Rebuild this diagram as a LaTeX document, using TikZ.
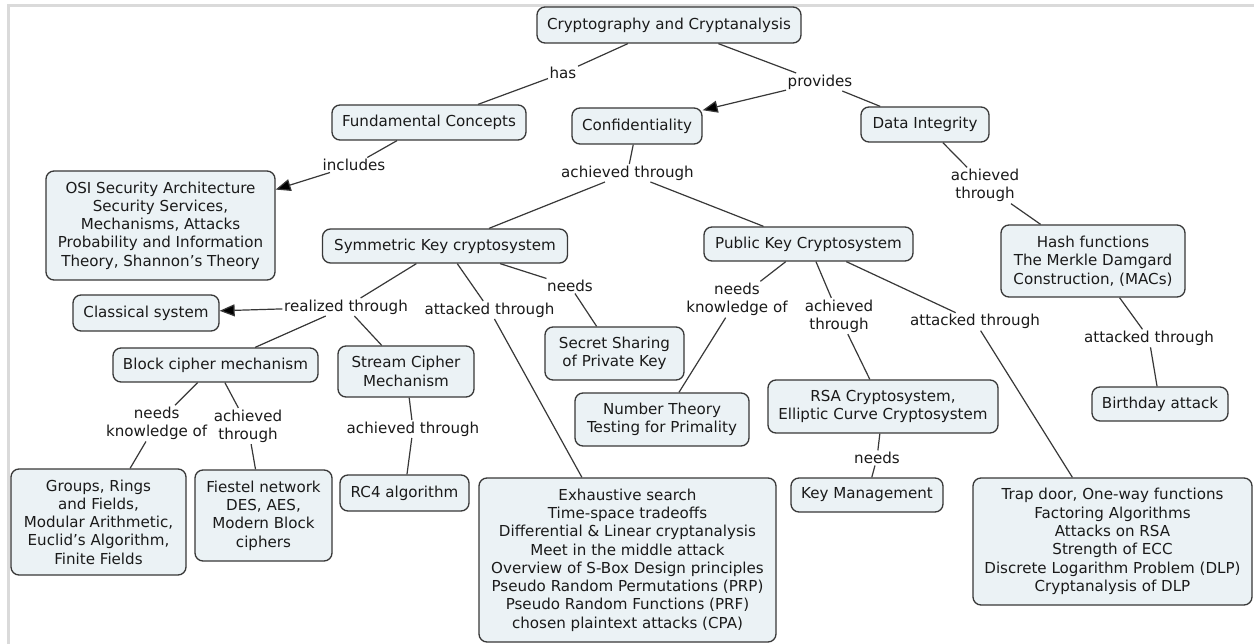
\documentclass[tikz,border=0pt]{standalone}
\usepackage{fontspec}
\setmainfont{DejaVu Sans}
\usetikzlibrary{arrows.meta}
\definecolor{boxfill}{HTML}{EBF2F5}
\definecolor{boxline}{HTML}{383838}
\definecolor{txt}{HTML}{1A1A1A}
\definecolor{framegrey}{HTML}{DADADA}
\tikzset{
  concept/.style={draw=boxline, fill=boxfill, line width=1.3pt, rounded corners=8pt,
    align=center, inner sep=2pt, text=txt, font=\fontsize{15.1}{18.3}\selectfont},
  linkph/.style={align=center, inner sep=1.5pt, text=txt, font=\fontsize{15.1}{18.3}\selectfont},
  conn/.style={draw=boxline, line width=1.2pt},
  arr/.style={conn, -{Triangle[length=15pt,width=12pt,fill=black]}}
}
\begin{document}
\begin{tikzpicture}[x=1pt,y=-1pt]
\useasboundingbox (0,0) rectangle (1254,644);
\fill[white] (0,0) rectangle (1254,644);
\draw[framegrey, line width=2.5pt] (8.7,644) -- (8.7,5.3) -- (1254,5.3);

% concepts
\node[concept, minimum width=264pt, minimum height=36pt] (crypto) at (669,25) {Cryptography and Cryptanalysis};
\node[concept, minimum width=194pt, minimum height=35pt] (fund) at (429,122.5) {Fundamental Concepts};
\node[concept, minimum width=130pt, minimum height=36pt] (conf) at (637,126) {Confidentiality};
\node[concept, minimum width=128pt, minimum height=35pt] (di) at (925,124.5) {Data Integrity};
\node[concept, minimum width=229pt, minimum height=109pt] (osi) at (160.5,225.5) {OSI Security Architecture\\Security Services,\\Mechanisms, Attacks\\Probability and Information\\Theory, Shannon’s Theory};
\node[concept, minimum width=245pt, minimum height=34pt] (sym) at (445,246) {Symmetric Key cryptosystem};
\node[concept, minimum width=209pt, minimum height=34pt] (pub) at (808.5,244) {Public Key Cryptosystem};
\node[concept, minimum width=184pt, minimum height=72pt] (hash) at (1093,261) {Hash functions\\The Merkle Damgard\\Construction, (MACs)};
\node[concept, minimum width=146pt, minimum height=36pt] (classical) at (146,313) {Classical system};
\node[concept, minimum width=205pt, minimum height=34pt] (block) at (215.5,365) {Block cipher mechanism};
\node[concept, minimum width=136pt, minimum height=51pt] (stream) at (406,371.5) {Stream Cipher\\Mechanism};
\node[concept, minimum width=139pt, minimum height=53pt] (secret) at (614.5,353.5) {Secret Sharing\\of Private Key};
\node[concept, minimum width=174pt, minimum height=53pt] (numth) at (662,419.5) {Number Theory\\Testing for Primality};
\node[concept, minimum width=230pt, minimum height=53pt] (rsa) at (883,406.5) {RSA Cryptosystem,\\Elliptic Curve Cryptosystem};
\node[concept, minimum width=136pt, minimum height=34pt] (birthday) at (1160,404) {Birthday attack};
\node[concept, minimum width=175pt, minimum height=106pt] (groups) at (98.5,522) {Groups, Rings\\and Fields,\\Modular Arithmetic,\\Euclid’s Algorithm,\\Finite Fields};
\node[concept, minimum width=137pt, minimum height=91pt] (fiestel) at (263.5,515.5) {Fiestel network\\DES, AES,\\Modern Block\\ciphers};
\node[concept, minimum width=129pt, minimum height=36pt] (rc4) at (404.5,493) {RC4 algorithm};
\node[concept, minimum width=297pt, minimum height=164pt] (exh) at (627.5,560) {Exhaustive search\\Time-space tradeoffs\\Differential \& Linear cryptanalysis\\Meet in the middle attack\\Overview of S-Box Design principles\\Pseudo Random Permutations (PRP)\\Pseudo Random Functions (PRF)\\chosen plaintext attacks (CPA)};
\node[concept, minimum width=152pt, minimum height=34pt] (key) at (867,495) {Key Management};
\node[concept, minimum width=279pt, minimum height=127pt] (trap) at (1112.5,541.5) {Trap door, One-way functions\\Factoring Algorithms\\Attacks on RSA\\Strength of ECC\\Discrete Logarithm Problem (DLP)\\Cryptanalysis of DLP};

% linking phrases
\node[linkph] (has) at (563,73) {has};
\node[linkph] (provides) at (820,82) {provides};
\node[linkph] (includes) at (354,165) {includes};
\node[linkph] (ach1) at (627.5,173) {achieved through};
\node[linkph] (ach2) at (985,185.5) {achieved\\through};
\node[linkph] (realized) at (346,307) {realized through};
\node[linkph] (att1) at (489.5,310) {attacked through};
\node[linkph] (needs1) at (570,286) {needs};
\node[linkph] (nk1) at (737,299.5) {needs\\knowledge of};
\node[linkph] (ach3) at (839,316) {achieved\\through};
\node[linkph] (att2) at (975,321.7) {attacked through};
\node[linkph] (att3) at (1149,338.3) {attacked through};
\node[linkph] (nk2) at (156.7,423.3) {needs\\knowledge of};
\node[linkph] (ach4) at (248,426) {achieved\\through};
\node[linkph] (ach5) at (413,429) {achieved through};
\node[linkph] (needs2) at (877,458) {needs};

% connectors
\draw[conn] (crypto) -- (has);
\draw[conn] (has) -- (fund);
\draw[conn] (crypto) -- (provides);
\draw[arr] (provides) -- (conf);
\draw[conn] (provides) -- (di);
\draw[conn] (fund) -- (includes);
\draw[arr] (includes) -- (osi);
\draw[conn] (conf) -- (ach1);
\draw[conn] (ach1) -- (sym);
\draw[conn] (ach1) -- (pub);
\draw[conn] (di) -- (ach2);
\draw[conn] (ach2) -- (hash);
\draw[conn] (sym) -- (realized);
\draw[arr] (realized) -- (classical);
\draw[conn] (realized) -- (block);
\draw[conn] (realized) -- (stream);
\draw[conn] (sym) -- (att1);
\draw[conn] (att1) -- (exh);
\draw[conn] (sym) -- (needs1);
\draw[conn] (needs1) -- (secret);
\draw[conn] (pub) -- (nk1);
\draw[conn] (nk1) -- (numth);
\draw[conn] (pub) -- (ach3);
\draw[conn] (ach3) -- (rsa);
\draw[conn] (pub) -- (att2);
\draw[conn] (att2) -- (trap);
\draw[conn] (hash) -- (att3);
\draw[conn] (att3) -- (birthday);
\draw[conn] (block) -- (nk2);
\draw[conn] (nk2) -- (groups);
\draw[conn] (block) -- (ach4);
\draw[conn] (ach4) -- (fiestel);
\draw[conn] (stream) -- (ach5);
\draw[conn] (ach5) -- (rc4);
\draw[conn] (rsa) -- (needs2);
\draw[conn] (needs2) -- (key);
\end{tikzpicture}
\end{document}
